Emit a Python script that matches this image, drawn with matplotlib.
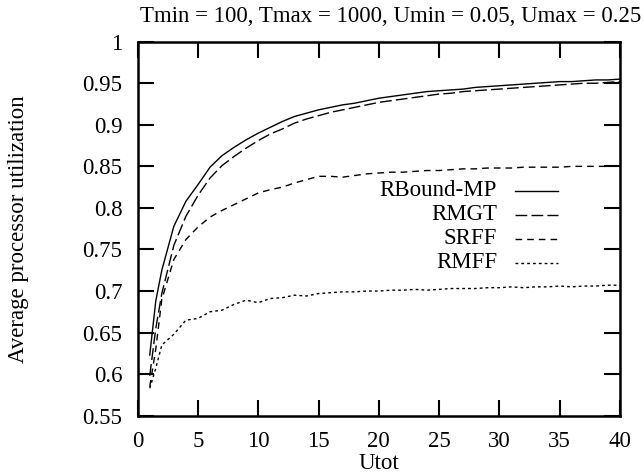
import numpy as np
import matplotlib
matplotlib.use('Agg')
import matplotlib.pyplot as plt

plt.rcParams['font.family'] = ['Liberation Serif', 'DejaVu Serif']

utot = [1, 1.5, 2, 3, 4, 5, 6, 7, 8, 9, 10, 11, 12, 13, 14, 15, 16, 17, 18, 19, 20,
        21, 22, 23, 24, 25, 26, 27, 28, 29, 30, 31, 32, 33, 34, 35, 36, 37, 38, 39, 40]

rbound_mp = [0.623, 0.688, 0.725, 0.778, 0.808, 0.828, 0.849, 0.863, 0.873, 0.882, 0.890,
             0.897, 0.904, 0.910, 0.914, 0.918, 0.921, 0.924, 0.926, 0.929, 0.932,
             0.934, 0.936, 0.938, 0.940, 0.941, 0.942, 0.943, 0.945, 0.946, 0.947,
             0.948, 0.949, 0.950, 0.951, 0.952, 0.952, 0.953, 0.954, 0.954, 0.955]

rmgt = [0.598, 0.655, 0.697, 0.755, 0.790, 0.815, 0.836, 0.851, 0.862, 0.872, 0.881,
        0.889, 0.895, 0.902, 0.907, 0.911, 0.915, 0.918, 0.921, 0.924, 0.927,
        0.929, 0.931, 0.933, 0.935, 0.937, 0.938, 0.940, 0.941, 0.942, 0.943,
        0.944, 0.945, 0.946, 0.947, 0.948, 0.949, 0.950, 0.950, 0.951, 0.952]

srff = [0.585, 0.630, 0.690, 0.738, 0.762, 0.777, 0.789, 0.797, 0.804, 0.811, 0.818,
        0.822, 0.825, 0.830, 0.834, 0.838, 0.838, 0.837, 0.839, 0.841, 0.842,
        0.843, 0.843, 0.844, 0.845, 0.845, 0.846, 0.847, 0.847, 0.848, 0.848,
        0.848, 0.849, 0.849, 0.849, 0.849, 0.850, 0.850, 0.850, 0.850, 0.851]

rmff = [0.583, 0.607, 0.635, 0.648, 0.665, 0.667, 0.675, 0.677, 0.684, 0.689, 0.686,
        0.691, 0.692, 0.695, 0.694, 0.697, 0.698, 0.699, 0.699, 0.700, 0.700,
        0.701, 0.701, 0.702, 0.701, 0.702, 0.703, 0.703, 0.703, 0.704, 0.704,
        0.705, 0.704, 0.705, 0.705, 0.706, 0.705, 0.706, 0.706, 0.707, 0.707]

labels = ['RBound-MP', 'RMGT', 'SRFF', 'RMFF']
xticks = [0, 5, 10, 15, 20, 25, 30, 35, 40]
yticks = [0.55, 0.6, 0.65, 0.7, 0.75, 0.8, 0.85, 0.9, 0.95, 1]
ytick_labels = ['0.55', '0.6', '0.65', '0.7', '0.75', '0.8', '0.85', '0.9', '0.95', '1']

styles = ['-', (0, (8.5, 3.0)), (0, (4.8, 3.6)), (0, (2.0, 2.2))]
fs = 16.5

fig = plt.figure(figsize=(6.44, 4.76), dpi=100)
ax = fig.add_axes([0.2138, 0.1267, 0.7489, 0.7857])

for ys, lab, ls in zip([rbound_mp, rmgt, srff, rmff], labels, styles):
    ax.plot(utot, ys, color='black', lw=1.0, linestyle=ls, label=lab)

ax.set_xlim(0, 40)
ax.set_ylim(0.55, 1.0)
ax.set_xticks(xticks)
ax.set_yticks(yticks)
ax.set_yticklabels(ytick_labels)
ax.tick_params(direction='in', length=11.5, width=1.5, top=True, right=True,
               labelsize=fs, colors='black')
ax.tick_params(axis='x', pad=11)
ax.tick_params(axis='y', pad=11)
for s in ax.spines.values():
    s.set_linewidth(1.8)

ax.set_xlabel('Utot', fontsize=fs, labelpad=1)
ax.set_ylabel('Average processor utilization', fontsize=fs)
ax.yaxis.set_label_coords(-0.225, 0.5)
ax.set_title('Tmin = 100, Tmax = 1000, Umin = 0.05, Umax = 0.25', fontsize=fs,
             x=0.525, pad=14)

# gnuplot-style key: right-aligned text with the sample line after it
key_rows = [0.602, 0.537, 0.473, 0.409]
for lab, ls, yk in zip(labels, styles, key_rows):
    ax.text(0.745, yk, lab, transform=ax.transAxes, ha='right', va='center', fontsize=fs)
    ax.plot([0.782, 0.872], [yk, yk], transform=ax.transAxes, color='black',
            lw=1.0, linestyle=ls)

fig.savefig('out.png', dpi=100)
